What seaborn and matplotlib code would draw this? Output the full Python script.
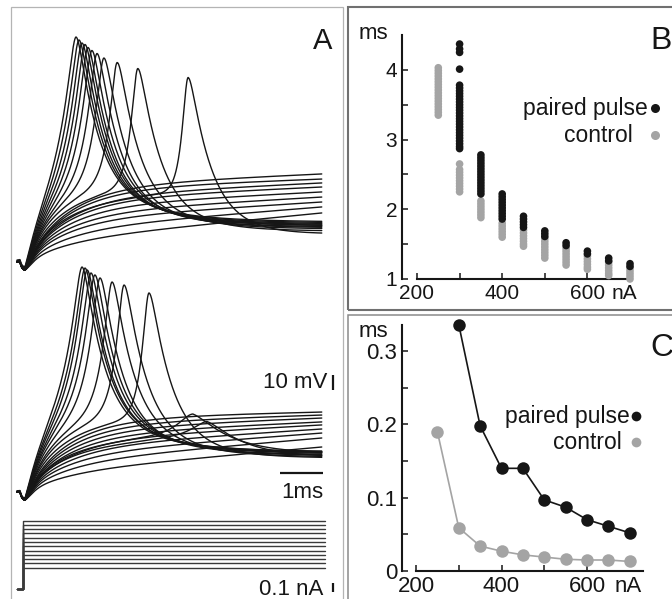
import numpy as np
import pandas as pd
import matplotlib
matplotlib.use("Agg")
import matplotlib.pyplot as plt
from matplotlib.patches import Rectangle
from matplotlib.lines import Line2D
from matplotlib.ticker import FixedLocator, FixedFormatter
import seaborn as sns

sns.set_theme(style="ticks")
plt.rcParams["font.family"] = ["Liberation Sans", "DejaVu Sans"]

W, H = 672, 599
BLACK = "#161616"
GREY = "#a4a4a4"

# ---------------------------------------------------------------------------
# Panel A: membrane potential (mV above rest) after stimulus onset (ms)
# first set of traces
top_spike_time = [1.30, 1.37, 1.44, 1.51, 1.58, 1.67, 1.79, 1.95, 2.26, 2.74, 3.91]
top_spike_peak = [150, 148, 146, 145, 143, 141, 139, 136, 133, 129, 123]
top_spike_drive = [75, 72, 69, 66, 63, 60, 57, 54, 50, 45, 38]
top_spike_rise = [0.30, 0.29, 0.28, 0.27, 0.26, 0.25, 0.23, 0.21, 0.18, 0.15, 0.12]
top_spike_settle = [26.7, 26.0, 25.3, 24.7, 24.0, 24.0, 23.3, 22.7, 22.0, 20.7, 19.3]
top_spike_ahp = [0, 0, 0, 0, 0, 0, 1, 1, 2, 3, 5]
top_sub_early = [43.3, 41.3, 38.0, 36.0, 32.7, 29.3, 26.0, 21.3, 16.0]
top_sub_end = [58.7, 55.3, 52.7, 50.0, 46.7, 43.3, 40.0, 36.7, 32.7]

# second set of traces
mid_spike_time = [1.44, 1.51, 1.56, 1.65, 1.74, 1.86, 2.14, 2.42, 3.00, 4.02, 4.35]
mid_spike_peak = [150, 149.3, 148, 146, 144.7, 142.7, 140, 138, 132.7, 52.0, 47.0]
mid_spike_drive = [75, 71, 68, 65, 62, 58, 53, 49, 44, 30, 28]
mid_spike_rise = [0.30, 0.29, 0.28, 0.27, 0.26, 0.24, 0.21, 0.18, 0.15, 0.12, 0.12]
mid_spike_settle = [26.7, 26.7, 26.0, 26.0, 25.3, 24.7, 24.0, 23.3, 22.7, 24.7, 22.7]
mid_spike_width = [1, 1, 1, 1, 1, 1, 1, 1, 1, 2.5, 2.5]
mid_spike_ahp = [0, 0, 0, 0, 0, 1, 1, 2, 3, 5, 5]
mid_sub_early = [41.3, 38.7, 36.0, 33.3, 30.7, 27.3, 24.0, 20.0, 14.7]
mid_sub_end = [53.3, 51.3, 49.3, 46.7, 44.7, 42.0, 39.3, 36.0, 30.0]

# injected current steps (nA)
step_levels = [0.25, 0.30, 0.35, 0.40, 0.45, 0.50, 0.55, 0.60, 0.65, 0.70, 0.75, 0.80]

# ---------------------------------------------------------------------------
# Panel B: spike latency (ms) per stimulus current
paired_300 = [4.37, 4.30, 4.25, 4.01, 3.78, 3.74, 3.70, 3.66, 3.62, 3.58, 3.54, 3.50,
              3.46, 3.42, 3.38, 3.34, 3.30, 3.26, 3.22, 3.18, 3.14, 3.10, 3.06, 3.02,
              2.98, 2.94, 2.90, 2.87]
paired_350 = [2.78, 2.74, 2.70, 2.66, 2.62, 2.58, 2.54, 2.50, 2.46, 2.42, 2.38, 2.34,
              2.30, 2.26, 2.22]
paired_400 = [2.22, 2.18, 2.14, 2.10, 2.06, 2.02, 1.98, 1.94, 1.90, 1.86]
paired_450 = [1.90, 1.86, 1.82, 1.78, 1.74]
paired_500 = [1.69, 1.65, 1.61]
paired_550 = [1.52, 1.48]
paired_600 = [1.40, 1.36]
paired_650 = [1.30, 1.26]
paired_700 = [1.22, 1.18]

control_250 = [4.03, 3.99, 3.95, 3.91, 3.87, 3.83, 3.79, 3.75, 3.71, 3.67, 3.63, 3.59,
               3.55, 3.51, 3.47, 3.43, 3.39, 3.35]
control_300 = [2.65, 2.57, 2.53, 2.49, 2.45, 2.41, 2.37, 2.33, 2.29, 2.25]
control_350 = [2.12, 2.08, 2.04, 2.00, 1.96, 1.92, 1.88]
control_400 = [1.80, 1.76, 1.72, 1.68, 1.64, 1.60]
control_450 = [1.70, 1.66, 1.62, 1.58, 1.54, 1.50, 1.47]
control_500 = [1.58, 1.54, 1.50, 1.46, 1.42, 1.38, 1.34, 1.30]
control_550 = [1.44, 1.40, 1.36, 1.32, 1.28, 1.24, 1.20]
control_600 = [1.33, 1.29, 1.25, 1.21, 1.17, 1.14]
control_650 = [1.24, 1.20, 1.16, 1.12, 1.08, 1.05]
control_700 = [1.16, 1.12, 1.08, 1.04, 1.00]

# ---------------------------------------------------------------------------
# Panel C: spike jitter (ms) per stimulus current
jitter_paired_current = [300, 350, 400, 450, 500, 550, 600, 650, 700]
jitter_paired = [0.336, 0.198, 0.140, 0.140, 0.097, 0.087, 0.070, 0.061, 0.052]
jitter_control_current = [250, 300, 350, 400, 450, 500, 550, 600, 650, 700]
jitter_control = [0.190, 0.059, 0.034, 0.027, 0.022, 0.019, 0.016, 0.015, 0.015, 0.013]

# ---------------------------------------------------------------------------
# waveform model for the voltage traces
t = np.arange(-0.07, 7.02, 0.004)
TA = 0.12          # time of the stimulus artefact minimum
TAU_SUB = 1.0
TAU_SPK = 0.8
SPK_SLOPE = 2.5
ROUND = 0.1
MID_OFFSET = -153.33


def artifact(tt):
    x = np.clip(tt, 0, None) / TA
    return -5.3 * x * np.exp(1 - x)


def drive_resp(tt, amp, slope, tau):
    s = np.clip(tt - TA, 0, None)
    return amp * (1 - np.exp(-s / tau)) + slope * s


def sub_trace(v_early, v_end, t_early=1.86, t_end=7.02):
    a = [[1 - np.exp(-(t_early - TA) / TAU_SUB), t_early - TA],
         [1 - np.exp(-(t_end - TA) / TAU_SUB), t_end - TA]]
    amp, slope = np.linalg.solve(a, [v_early, v_end])
    return artifact(t) + drive_resp(t, amp, slope, TAU_SUB)


def shape(u, tau):
    return np.exp(-(np.sqrt(ROUND ** 2 + u ** 2) - ROUND) / tau)


def spike_trace(drive, tp, peak, settle, rise_tau, width=1.0, ahp=0.0):
    base = artifact(t) + drive_resp(t, drive, SPK_SLOPE, TAU_SPK)
    b_tp = np.interp(tp, t, base)
    u = (t - tp) / width
    rise = shape(u, rise_tau)
    fall = 0.75 * shape(u, 0.45) + 0.25 * shape(u, 1.3)
    after = np.clip(t - tp, 0, None)
    floor = settle - ahp * (after / 1.2) * np.exp(1 - after / 1.2)
    return np.where(u < 0, base + (peak - b_tp) * rise, floor + (peak - settle) * fall)


traces = []
n = 0
for i in range(len(top_spike_time)):
    v = spike_trace(top_spike_drive[i], top_spike_time[i], top_spike_peak[i],
                    top_spike_settle[i], top_spike_rise[i], 1.0, top_spike_ahp[i])
    traces.append(pd.DataFrame({"time": t, "mv": v, "trace": n})); n += 1
for i in range(len(top_sub_early)):
    v = sub_trace(top_sub_early[i], top_sub_end[i])
    traces.append(pd.DataFrame({"time": t, "mv": v, "trace": n})); n += 1
for i in range(len(mid_spike_time)):
    v = spike_trace(mid_spike_drive[i], mid_spike_time[i], mid_spike_peak[i],
                    mid_spike_settle[i], mid_spike_rise[i], mid_spike_width[i],
                    mid_spike_ahp[i])
    traces.append(pd.DataFrame({"time": t, "mv": v + MID_OFFSET, "trace": n})); n += 1
for i in range(len(mid_sub_early)):
    v = sub_trace(mid_sub_early[i], mid_sub_end[i])
    traces.append(pd.DataFrame({"time": t, "mv": v + MID_OFFSET, "trace": n})); n += 1
df_v = pd.concat(traces, ignore_index=True)

steps = []
for k, lev in enumerate(step_levels):
    steps.append(pd.DataFrame({"time": [-0.07, 0.07, 0.07, 7.09],
                               "na": [0, 0, lev, lev], "level": k}))
df_i = pd.concat(steps, ignore_index=True)

# ---------------------------------------------------------------------------
fig = plt.figure(figsize=(W / 100, H / 100), dpi=100)


def fr(x0, y0, x1, y1):
    """axes rectangle from pixel corners (top-left origin)"""
    return [x0 / W, 1 - y1 / H, (x1 - x0) / W, (y1 - y0) / H]


def ftext(x, y, s, **kw):
    fig.text(x / W, 1 - y / H, s, **kw)


# panel frames
for (x0, y0, x1, y1, col, lw) in [(11, 7, 343, 640, "#b4b4b4", 0.9),
                                  (348, 7, 700, 310, "#707070", 1.5),
                                  (348, 315, 700, 640, "#8a8a8a", 1.1)]:
    fig.add_artist(Rectangle((x0 / W, 1 - y1 / H), (x1 - x0) / W, (y1 - y0) / H,
                             transform=fig.transFigure, fill=False,
                             edgecolor=col, linewidth=lw))

# ---- Panel A
axA = fig.add_axes(fr(11, 7, 343, 599))
axA.set_facecolor("none")
sns.lineplot(data=df_v, x="time", y="mv", units="trace", estimator=None, sort=False,
             color=BLACK, linewidth=1.0, legend=False, ax=axA)
axA.set_xlim(-0.209, 7.512)
axA.set_ylim(-224.67, 170)
axA.axis("off")
# scale bars
axA.plot([7.28, 7.28], [-85.3, -75.3], color=BLACK, lw=1.6, solid_capstyle="butt")
axA.plot([6.05, 7.05], [-140.7, -140.7], color=BLACK, lw=1.6, solid_capstyle="butt")

axI = fig.add_axes(fr(11, 505, 343, 599))
axI.set_facecolor("none")
sns.lineplot(data=df_i, x="time", y="na", units="level", estimator=None, sort=False,
             color="#3a3a3a", linewidth=1.0, legend=False, ax=axI)
axI.set_xlim(-0.209, 7.512)
axI.set_ylim(-0.117, 0.982)
axI.axis("off")
axI.plot([7.28, 7.28], [-0.03, 0.07], color=BLACK, lw=1.6, solid_capstyle="butt")

ftext(327, 383, "10 mV", ha="right", va="center", fontsize=16, color=BLACK)
ftext(302, 498, "1ms", ha="center", va="baseline", fontsize=16, color=BLACK)
ftext(323, 595, "0.1 nA", ha="right", va="baseline", fontsize=16, color=BLACK)
ftext(323, 41, "A", ha="center", va="center", fontsize=21, color=BLACK)


def style_axis(ax, size):
    sns.despine(ax=ax)
    for side in ("left", "bottom"):
        ax.spines[side].set_linewidth(1.5)
        ax.spines[side].set_color(BLACK)
    ax.tick_params(which="both", direction="in", length=4, width=1.1, color=BLACK,
                   labelsize=size, labelcolor=BLACK, pad=3.5)
    ax.set_xlabel("")
    ax.set_ylabel("")
    ax.set_facecolor("none")


# ---- Panel B
rows = []
for cur, vals in [(250, control_250), (300, control_300), (350, control_350),
                  (400, control_400), (450, control_450), (500, control_500),
                  (550, control_550), (600, control_600), (650, control_650),
                  (700, control_700)]:
    rows += [("control", cur, v) for v in vals]
for cur, vals in [(300, paired_300), (350, paired_350), (400, paired_400),
                  (450, paired_450), (500, paired_500), (550, paired_550),
                  (600, paired_600), (650, paired_650), (700, paired_700)]:
    rows += [("paired pulse", cur, v) for v in vals]
df_b = pd.DataFrame(rows, columns=["condition", "current", "latency"])

axB = fig.add_axes(fr(402, 28, 672, 279))
sns.scatterplot(data=df_b, x="current", y="latency", hue="condition",
                palette={"control": GREY, "paired pulse": BLACK}, s=30, linewidth=0,
                legend=False, ax=axB, clip_on=False, zorder=3)
axB.set_xlim(164.8, 798.6)
axB.set_ylim(1, 4.6)
style_axis(axB, 15)
axB.spines["left"].set_bounds(1, 4.5)
axB.spines["bottom"].set_bounds(200, 700)
axB.xaxis.set_major_locator(FixedLocator([200, 400, 600]))
axB.xaxis.set_major_formatter(FixedFormatter(["200", "400", "600"]))
axB.xaxis.set_minor_locator(FixedLocator([300, 500]))
axB.yaxis.set_major_locator(FixedLocator([1, 2, 3, 4]))
axB.yaxis.set_major_formatter(FixedFormatter(["1", "2", "3", "4"]))
axB.yaxis.set_minor_locator(FixedLocator([1.5, 2.5, 3.5]))
axB.annotate("nA", xy=(657, 0), xycoords=("data", "axes fraction"), xytext=(0, -3.5),
             textcoords="offset points", ha="left", va="top", fontsize=15, color=BLACK)
ftext(373, 39, "ms", ha="center", va="baseline", fontsize=16, color=BLACK)
ftext(648, 115, "paired pulse", ha="right", va="baseline", fontsize=16.5, color=BLACK)
ftext(633, 142, "control", ha="right", va="baseline", fontsize=16.5, color=BLACK)
fig.add_artist(Line2D([655 / W], [1 - 108 / H], marker="o", markersize=6.5, color=BLACK,
                      markeredgewidth=0, linestyle="none", transform=fig.transFigure))
fig.add_artist(Line2D([655 / W], [1 - 135 / H], marker="o", markersize=6.5, color=GREY,
                      markeredgewidth=0, linestyle="none", transform=fig.transFigure))
ftext(650, 41, "B", ha="left", va="center", fontsize=23, color=BLACK)

# ---- Panel C
df_c = pd.concat([
    pd.DataFrame({"condition": "control", "current": jitter_control_current,
                  "jitter": jitter_control}),
    pd.DataFrame({"condition": "paired pulse", "current": jitter_paired_current,
                  "jitter": jitter_paired}),
], ignore_index=True)

axC = fig.add_axes(fr(402, 318, 672, 571))
sns.lineplot(data=df_c, x="current", y="jitter", hue="condition",
             palette={"control": GREY, "paired pulse": BLACK}, marker="o",
             markersize=9, markeredgewidth=0, linewidth=1.2, legend=False, ax=axC,
             clip_on=False, zorder=3)
axC.set_xlim(167.25, 798.8)
axC.set_ylim(0, 0.345)
style_axis(axC, 16)
axC.spines["left"].set_bounds(0, 0.335)
axC.spines["bottom"].set_bounds(200, 730)
axC.xaxis.set_major_locator(FixedLocator([200, 400, 600]))
axC.xaxis.set_major_formatter(FixedFormatter(["200", "400", "600"]))
axC.xaxis.set_minor_locator(FixedLocator([300, 500]))
axC.yaxis.set_major_locator(FixedLocator([0, 0.1, 0.2, 0.3]))
axC.yaxis.set_major_formatter(FixedFormatter(["0", "0.1", "0.2", "0.3"]))
axC.yaxis.set_minor_locator(FixedLocator([0.05, 0.15, 0.25]))
axC.annotate("nA", xy=(665, 0), xycoords=("data", "axes fraction"), xytext=(0, -3.5),
             textcoords="offset points", ha="left", va="top", fontsize=16, color=BLACK)
ftext(373, 337, "ms", ha="center", va="baseline", fontsize=16, color=BLACK)
ftext(630, 423, "paired pulse", ha="right", va="baseline", fontsize=16.5, color=BLACK)
ftext(622, 449, "control", ha="right", va="baseline", fontsize=16.5, color=BLACK)
fig.add_artist(Line2D([636 / W], [1 - 416 / H], marker="o", markersize=7, color=BLACK,
                      markeredgewidth=0, linestyle="none", transform=fig.transFigure))
fig.add_artist(Line2D([636 / W], [1 - 442 / H], marker="o", markersize=7, color=GREY,
                      markeredgewidth=0, linestyle="none", transform=fig.transFigure))
ftext(650, 348, "C", ha="left", va="center", fontsize=23, color=BLACK)

fig.savefig("out.png", dpi=100, facecolor="white")
